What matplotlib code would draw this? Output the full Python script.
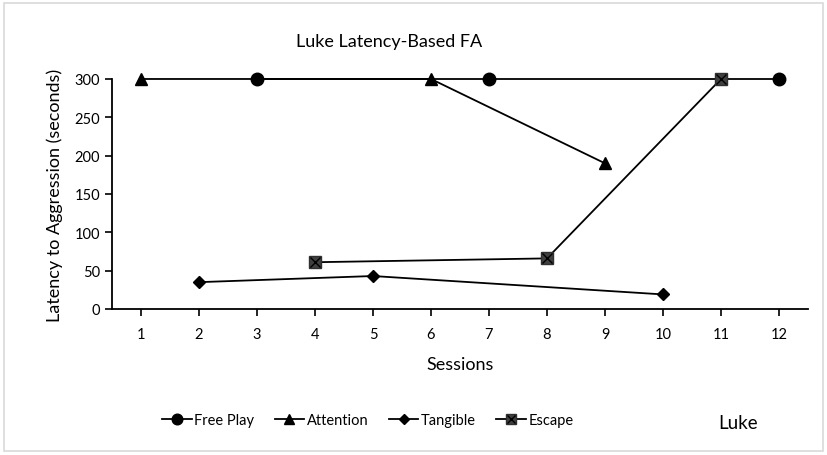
import matplotlib.pyplot as plt
from matplotlib.patches import Rectangle

plt.rcParams['font.family'] = ['Lato', 'DejaVu Sans']

# --- data ---
free_play_x = [3, 7, 12]
free_play_y = [300, 300, 300]
attention_x = [1, 6, 9]
attention_y = [300, 300, 190]
tangible_x = [2, 5, 10]
tangible_y = [35, 43, 19]
escape_x = [4, 8, 11]
escape_y = [61, 66, 300]
sessions = list(range(1, 13))

fig = plt.figure(figsize=(8.27, 4.56), dpi=100)
ax = fig.add_axes([0.1354, 0.3202, 0.977 - 0.1354, 0.8246 - 0.3202])

# figure border
fig.patches.append(Rectangle((0.005, 0.008), 0.99, 0.984, transform=fig.transFigure,
                             fill=False, edgecolor='#d9d9d9', linewidth=1.2))

h1, = ax.plot(free_play_x, free_play_y, color='black', lw=1.3, marker='o', ms=9, clip_on=False, zorder=3)
h2, = ax.plot(attention_x, attention_y, color='black', lw=1.3, marker='^', ms=9, clip_on=False, zorder=3)
h3, = ax.plot(tangible_x, tangible_y, color='black', lw=1.3, marker='D', ms=6, clip_on=False, zorder=3)
h4, = ax.plot(escape_x, escape_y, color='black', lw=1.3, marker='s', ms=9, mfc='#404040', mec='#303030',
              clip_on=False, zorder=3)
hx, = ax.plot(escape_x, escape_y, color='none', marker='x', ms=7, mec='black', mew=1.0, clip_on=False, zorder=4)

ax.set_xlim(0.5, 12.5)
ax.set_ylim(0, 300)
ax.set_xticks(sessions)
ax.set_yticks(range(0, 301, 50))
ax.tick_params(direction='out', length=5, width=1.2, labelsize=10.5, colors='black')
ax.tick_params(axis='x', pad=8)
for s in ['top', 'right']:
    ax.spines[s].set_visible(False)
for s in ['left', 'bottom']:
    ax.spines[s].set_linewidth(1.3)

ax.set_xlabel('Sessions', fontsize=13, labelpad=11)
ax.set_ylabel('Latency to Aggression (seconds)', fontsize=13, labelpad=8)
fig.text(0.47, 0.907, 'Luke Latency-Based FA', ha='center', va='center', fontsize=13)

fig.legend([h1, h2, h3, (h4, hx)], ['Free Play', 'Attention', 'Tangible', 'Escape'],
           loc='center', bbox_to_anchor=(0.445, 0.077), ncol=4, frameon=False,
           fontsize=10.5, handlelength=2.0, columnspacing=1.4, handletextpad=0.2,
           markerscale=0.85)
fig.text(0.893, 0.072, 'Luke', ha='center', va='center', fontsize=13.5)

fig.savefig('out.png', dpi=100)
